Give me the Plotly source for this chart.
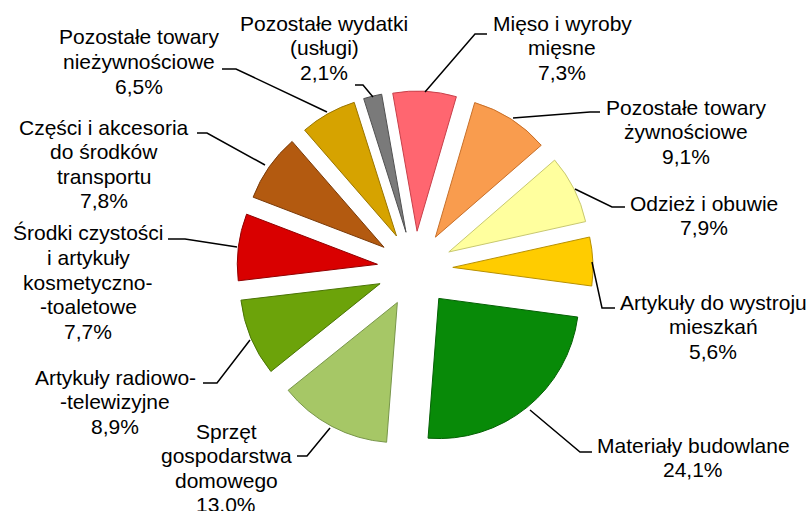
import plotly.graph_objects as go

# ---------------- data ----------------
categories = [
    "Mięso i wyroby<br>mięsne",
    "Pozostałe towary<br>żywnościowe",
    "Odzież i obuwie",
    "Artykuły do wystroju<br>mieszkań",
    "Materiały budowlane",
    "Sprzęt<br>gospodarstwa<br>domowego",
    "Artykuły radiowo-<br>-telewizyjne",
    "Środki czystości<br>i artykuły<br>kosmetyczno-<br>-toaletowe",
    "Części i akcesoria<br>do środków<br>transportu",
    "Pozostałe towary<br>nieżywnościowe",
    "Pozostałe wydatki<br>(usługi)",
]
values = [7.3, 9.1, 7.9, 5.6, 24.1, 13.0, 8.9, 7.7, 7.8, 6.5, 2.1]
slice_colors = ["#FF6670", "#F99C4E", "#FFFF9E", "#FFCC00", "#088A08",
                "#A6C766", "#6CA30A", "#D90000", "#B35A10", "#D6A300", "#7A7A7A"]
edge_colors = ["#C8404A", "#C8702A", "#C8C870", "#B89000", "#046004",
               "#78964A", "#4A7405", "#900000", "#7A3A08", "#9A7500", "#505050"]

# ---------------- layout helpers (pixel positions) ----------------
W, H = 810, 511
def px(x):
    return x / W
def py(y):
    return 1 - y / H

# label anchor: (centre x, centre y of first line) in pixels
label_pos = [(562, 23), (686, 107), (704, 203), (713, 302), (693, 445),
             (226, 431), (115, 377), (88, 233), (104, 127), (139, 37), (324, 23)]
line_step = 24.5
# leader lines, in pixels
leaders = [
    [(425, 92), (475, 34), (487, 34)],
    [(513, 118), (590, 112), (600, 112)],
    [(575, 189), (612, 207), (625, 207)],
    [(592, 262), (602, 308), (615, 308)],
    [(530, 410), (580, 452), (592, 452)],
    [(330, 428), (307, 456), (297, 456)],
    [(250, 340), (217, 383), (203, 383)],
    [(237, 247), (185, 239), (168, 239)],
    [(265, 165), (207, 133), (197, 133)],
    [(327, 112), (236, 69), (222, 69)],
    [(373, 97), (363, 85), (355, 85)],
]

font = dict(family="Liberation Sans, Arial, sans-serif", size=21, color="#000000")

fig = go.Figure()
fig.add_trace(go.Pie(
    labels=[c.replace("<br>", " ") for c in categories],
    values=values,
    sort=False,
    direction="clockwise",
    rotation=-10,
    pull=[0.27] * len(values),
    marker=dict(colors=slice_colors, line=dict(color=edge_colors, width=1)),
    textinfo="none",
    hoverinfo="label+percent",
    showlegend=False,
    domain=dict(x=[px(237), px(593)], y=[py(447), py(91)]),
))

annotations = []
for cat, v, (cx, cy) in zip(categories, values, label_pos):
    lines = cat.split("<br>") + [f"{v:.1f}".replace(".", ",") + "%"]
    for i, t in enumerate(lines):
        annotations.append(dict(
            x=px(cx), y=py(cy + i * line_step), xref="paper", yref="paper",
            text=t, showarrow=False, xanchor="center", yanchor="middle",
            font=font,
        ))

shapes = []
for pts in leaders:
    path = "M " + " L ".join(f"{px(x):.5f},{py(y):.5f}" for x, y in pts)
    shapes.append(dict(type="path", path=path, xref="paper", yref="paper",
                       line=dict(color="#000000", width=1.5)))

fig.update_layout(
    width=W, height=H,
    margin=dict(l=0, r=0, t=0, b=0),
    paper_bgcolor="white", plot_bgcolor="white",
    annotations=annotations, shapes=shapes,
)
fig.write_html("out.html", config={"displayModeBar": False},
               post_script="document.body.style.margin='0';")
